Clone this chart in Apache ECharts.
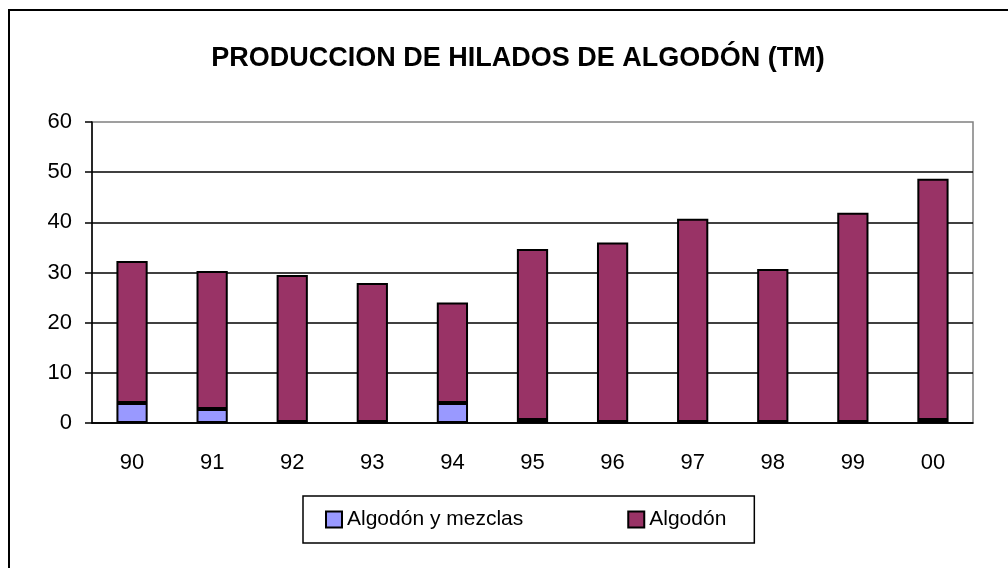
<!DOCTYPE html>
<html>
<head>
<meta charset="utf-8">
<script src="https://cdn.jsdelivr.net/npm/echarts@6/dist/echarts.min.js"></script>
<style>
  html, body { margin: 0; padding: 0; background: #fff; }
  #chart { width: 1008px; height: 568px; }
</style>
</head>
<body>
<div id="chart"></div>
<script>
// datos
var years = ["90", "91", "92", "93", "94", "95", "96", "97", "98", "99", "00"];
var mezclas = [4.0, 2.8, 0.2, 0.2, 4.0, 0.6, 0.2, 0.2, 0.2, 0.2, 0.6];
var algodon = [28.3, 27.5, 29.3, 27.7, 20.0, 34.1, 35.8, 40.5, 30.5, 41.7, 48.1];
var yTicks = [0, 10, 20, 30, 40, 50, 60];

var myChart = echarts.init(document.getElementById("chart"), null, { renderer: "canvas" });
var font = "Arial, 'Liberation Sans', sans-serif";

var option = {
  animation: false,
  textStyle: { fontFamily: font },
  graphic: [
    {
      type: "rect",
      shape: { x: 9, y: 10, width: 1010, height: 570 },
      style: { fill: "none", stroke: "#000", lineWidth: 2 },
      silent: true
    },
    {
      type: "text",
      x: 518,
      y: 59,
      style: {
        text: "PRODUCCION DE HILADOS DE ALGODÓN (TM)",
        font: "bold 27px " + font,
        fill: "#000",
        textAlign: "center",
        textVerticalAlign: "middle"
      }
    }
  ],
  legend: {
    left: 303,
    top: 496,
    padding: [13, 28, 13, 22],
    itemWidth: 16,
    itemHeight: 16,
    itemGap: 104,
    icon: "rect",
    borderColor: "#000",
    borderWidth: 1.5,
    textStyle: { fontSize: 21, color: "#000" },
    data: ["Algodón y mezclas", "Algodón"]
  },
  grid: {
    left: 92,
    right: 35,
    top: 122,
    bottom: 145,
    show: true,
    borderColor: "#808080",
    borderWidth: 1.5
  },
  xAxis: {
    type: "category",
    data: years,
    boundaryGap: true,
    axisLine: { lineStyle: { color: "#000", width: 1.5 } },
    axisTick: { alignWithLabel: false, length: 7, lineStyle: { color: "#000", width: 1.5 } },
    axisLabel: { color: "#000", fontSize: 22, margin: 29 }
  },
  yAxis: {
    type: "value",
    min: yTicks[0],
    max: yTicks[yTicks.length - 1],
    interval: 10,
    axisLine: { show: true, lineStyle: { color: "#000", width: 1.5 } },
    axisTick: { show: true, length: 7, lineStyle: { color: "#000", width: 1.5 } },
    axisLabel: { color: "#000", fontSize: 22, margin: 20 },
    splitLine: { show: true, showMaxLine: false, lineStyle: { color: "#000", width: 1.5 } }
  },
  series: [
    {
      name: "Algodón y mezclas",
      type: "bar",
      stack: "total",
      barWidth: "39%",
      itemStyle: { color: "#9999FF", borderColor: "#000", borderWidth: 2 },
      data: mezclas
    },
    {
      name: "Algodón",
      type: "bar",
      stack: "total",
      barWidth: "39%",
      itemStyle: { color: "#993366", borderColor: "#000", borderWidth: 2 },
      data: algodon
    }
  ]
};

myChart.setOption(option);
window.addEventListener("resize", myChart.resize);
</script>
</body>
</html>
